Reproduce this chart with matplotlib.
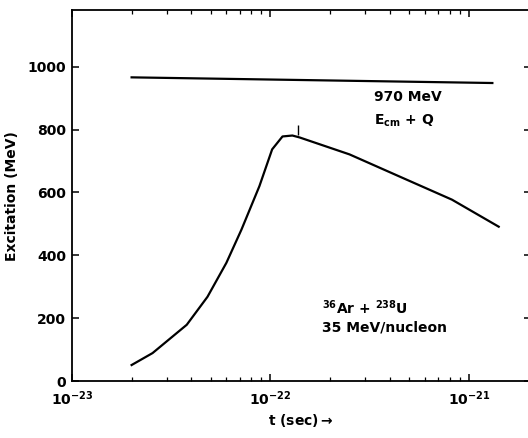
import matplotlib.pyplot as plt
import numpy as np

# values
t_curve = [2.0e-23, 2.55e-23, 3.79e-23, 4.82e-23, 6.0e-23, 7.15e-23, 8.8e-23,
           1.02e-22, 1.15e-22, 1.29e-22, 1.40e-22, 2.5e-22, 4.45e-22, 8.2e-22, 1.41e-21]
e_curve = [51, 89, 179, 268, 376, 482, 620, 737, 778, 781, 775, 721, 651, 577, 491]

t_limit = [2.0e-23, 1.31e-21]
e_limit = [966, 948]

t_mark = [1.37e-22]
e_mark = [797]

y_ticks = [0, 200, 400, 600, 800, 1000]
x_ticks = [1e-23, 1e-22, 1e-21]
x_tick_labels = [r'$\mathbf{10^{-23}}$', r'$\mathbf{10^{-22}}$', r'$\mathbf{10^{-21}}$']

plt.rcParams['font.family'] = ['DejaVu Sans']
plt.rcParams['font.weight'] = 'bold'
plt.rcParams['mathtext.fontset'] = 'dejavusans'
plt.rcParams['mathtext.default'] = 'bf'


def plot_excitation():
    fig = plt.figure(figsize=(5.28, 4.38), dpi=100)
    ax = fig.add_axes([0.136, 0.130, 0.869, 0.847])

    ax.plot(t_curve, e_curve, color='black', linewidth=1.6)
    ax.plot(t_limit, e_limit, color='black', linewidth=1.6)
    ax.scatter(t_mark, e_mark, marker='|', s=60, color='black', linewidths=1.0)

    ax.set_xscale('log')
    ax.set_xlim(1e-23, 10 ** -20.69)
    ax.set_ylim(0, 1180)

    ax.set_xticks(x_ticks)
    ax.set_xticklabels(x_tick_labels, fontsize=10)
    ax.set_yticks(y_ticks)
    ax.set_yticklabels([str(v) for v in y_ticks], fontsize=10, fontweight='bold')

    ax.tick_params(which='major', direction='in', length=5, width=1.1,
                   top=True, right=True, pad=4)
    ax.tick_params(axis='x', which='major', pad=6)
    ax.tick_params(which='minor', direction='in', length=3, width=0.9,
                   top=True, right=False)
    ax.tick_params(axis='y', which='minor', left=False, right=False)

    for s in ax.spines.values():
        s.set_linewidth(1.3)

    ax.set_ylabel('Excitation (MeV)', fontsize=10, fontweight='bold', labelpad=6)
    ax.set_xlabel(r't (sec)$\rightarrow$', fontsize=10, fontweight='bold', labelpad=3)

    ax.text(3.33e-22, 902, '970 MeV', fontsize=10, fontweight='bold', va='center')
    ax.text(3.33e-22, 827, r'E$_{\mathbf{cm}}$ + Q', fontsize=10, fontweight='bold', va='center')

    ax.text(1.82e-22, 234, r'$^{\mathbf{36}}$Ar + $^{\mathbf{238}}$U', fontsize=10,
            fontweight='bold', va='center')
    ax.text(1.82e-22, 170, '35 MeV/nucleon', fontsize=10, fontweight='bold', va='center')

    fig.savefig('out.png', dpi=100)


if __name__ == "__main__":
    plot_excitation()
